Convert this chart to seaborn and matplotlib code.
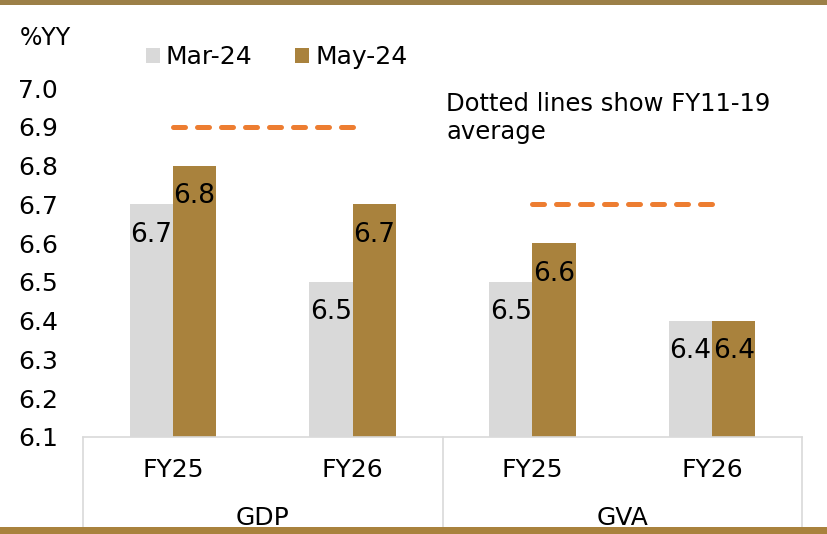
import matplotlib
matplotlib.use("Agg")
import matplotlib.pyplot as plt
import matplotlib.transforms as mtransforms
from matplotlib.patches import Patch, Rectangle
from matplotlib.lines import Line2D
import seaborn as sns
import pandas as pd

# ---- data ----
groups = ["GDP", "GDP", "GVA", "GVA"]
years = ["FY25", "FY26", "FY25", "FY26"]
series_names = ["Mar-24", "May-24"]
mar24 = [6.7, 6.5, 6.5, 6.4]
may24 = [6.8, 6.7, 6.6, 6.4]
avg_groups = ["GDP", "GVA"]
avg_values = [6.9, 6.7]
yticks = [6.1, 6.2, 6.3, 6.4, 6.5, 6.6, 6.7, 6.8, 6.9, 7.0]

GRAY = "#D9D9D9"
BROWN = "#A9823D"
ORANGE = "#ED7D31"
FRAME = "#9C8048"

sns.set_theme(style="white")
plt.rcParams["font.family"] = ["DejaVu Sans"]
plt.rcParams["text.color"] = "black"
plt.rcParams["ytick.color"] = "black"
plt.rcParams["ytick.labelcolor"] = "black"

cats = [f"{g} {y}" for g, y in zip(groups, years)]
df = pd.DataFrame({
    "cat": cats * 2,
    "series": [series_names[0]] * 4 + [series_names[1]] * 4,
    "value": mar24 + may24,
})

fig = plt.figure(figsize=(8.27, 5.34), dpi=100)
ax = fig.add_axes([83 / 827, (534 - 437) / 534, 719 / 827, 349 / 534])

sns.barplot(data=df, x="cat", y="value", hue="series", order=cats,
            hue_order=series_names, palette=[GRAY, BROWN], width=0.48,
            saturation=1, linewidth=0, ax=ax, legend=False)

ax.set_ylim(6.1, 7.0)
ax.set_xlim(-0.5, 3.5)
ax.set_xlabel("")
ax.set_ylabel("")
ax.set_yticks(yticks)
ax.set_yticklabels([f"{v:.1f}" for v in yticks], fontsize=18, ha="left",
                   color="black")
ax.tick_params(axis="y", length=0, pad=46.8)
ax.set_xticks([])
for s in ["top", "right", "left"]:
    ax.spines[s].set_visible(False)
ax.spines["bottom"].set_color(GRAY)
ax.spines["bottom"].set_linewidth(1.2)

# value labels
for cont in ax.containers:
    for bar in cont:
        h = bar.get_height()
        ax.annotate(f"{h:.1f}", (bar.get_x() + bar.get_width() / 2, h),
                    xytext=(0, -22), textcoords="offset points",
                    ha="center", va="center", fontsize=19, color="black")

# average dashed lines
for g, v in zip(avg_groups, avg_values):
    idx = [i for i, gg in enumerate(groups) if gg == g]
    ax.plot([idx[0], idx[-1]], [v, v], color=ORANGE, lw=3.6,
            dashes=(2.4, 2.4), dash_capstyle="round", solid_capstyle="round")

# category axis box
trans = mtransforms.blended_transform_factory(ax.transData, fig.transFigure)
ybase = 1 - 437 / 534
for xv in [-0.5, 1.5, 3.5]:
    ax.add_line(Line2D([xv, xv], [0, ybase], transform=trans, color=GRAY,
                       lw=1.2, clip_on=False))
for i, y in enumerate(years):
    ax.text(i, 1 - 470 / 534, y, transform=trans, ha="center", va="center",
            fontsize=18, color="black")
seen = []
for g in groups:
    if g not in seen:
        seen.append(g)
for g in seen:
    idx = [i for i, gg in enumerate(groups) if gg == g]
    ax.text((idx[0] + idx[-1]) / 2, 1 - 518 / 534, g, transform=trans,
            ha="center", va="center", fontsize=18, color="black")

# frame bars top/bottom
fig.add_artist(Rectangle((0, 1 - 5 / 534), 1, 5 / 534, transform=fig.transFigure,
                         color=FRAME, lw=0))
fig.add_artist(Rectangle((0, 0), 1, 7 / 534, transform=fig.transFigure,
                         color=BROWN, lw=0))

# %YY label
fig.text(20 / 827, 1 - 38 / 534, "%YY", fontsize=17, ha="left", va="center",
         color="black")

# legend
handles = [Patch(facecolor=GRAY, edgecolor="none"),
           Patch(facecolor=BROWN, edgecolor="none")]
leg = fig.legend(handles, series_names, loc="center left",
                 bbox_to_anchor=(146 / 827, 1 - 57 / 534), ncol=2, frameon=False,
                 fontsize=18, handlelength=0.55, handleheight=0.55,
                 handletextpad=0.25, columnspacing=1.7, borderpad=0,
                 borderaxespad=0)
for t in leg.get_texts():
    t.set_color("black")

# note
fig.text(446 / 827, 1 - 118 / 534, "Dotted lines show FY11-19\naverage",
         fontsize=17.5, ha="left", va="center", linespacing=1.25,
         color="black")

fig.savefig("out.png", dpi=100)
